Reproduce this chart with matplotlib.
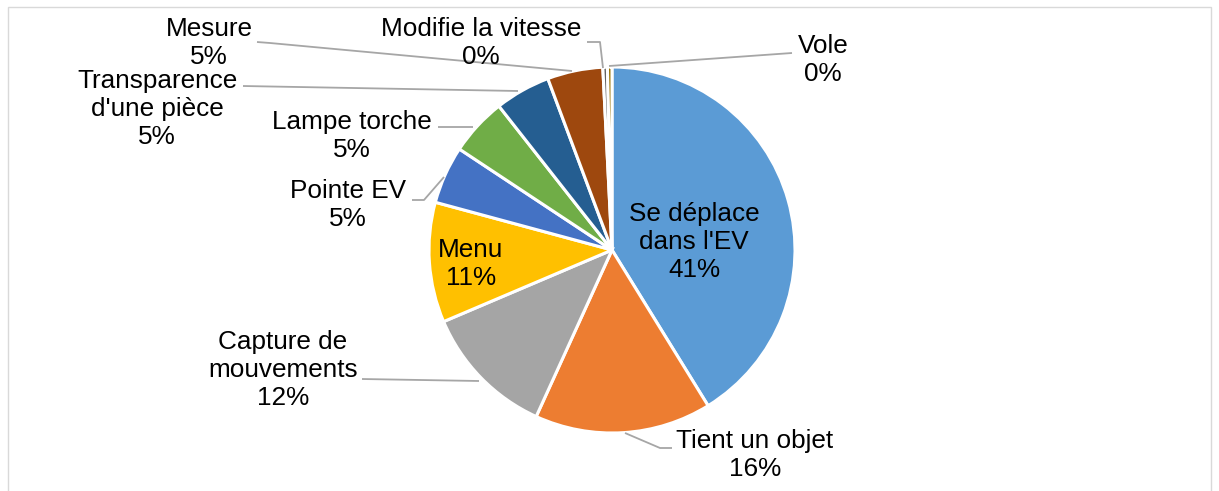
import matplotlib
matplotlib.use("Agg")
import matplotlib.pyplot as plt
from matplotlib.patches import Rectangle

categories = ["Se déplace\ndans l'EV", "Tient un objet", "Capture de\nmouvements", "Menu",
              "Pointe EV", "Lampe torche", "Transparence\nd'une pièce", "Mesure",
              "Modifie la vitesse", "Vole"]
values = [41.2, 15.6, 11.8, 10.6, 5.1, 5.1, 4.9, 4.9, 0.4, 0.4]
colors = ["#5B9BD5", "#ED7D31", "#A5A5A5", "#FFC000", "#4472C4", "#70AD47",
          "#255E91", "#9E480E", "#636363", "#997300"]

W, H = 1219, 491
fig = plt.figure(figsize=(W / 100, H / 100), dpi=100)
ax = fig.add_axes([0, 0, 1, 1])
ax.set_xlim(0, W)
ax.set_ylim(0, H)
ax.set_aspect("equal")
ax.axis("off")

def Y(y):
    return H - y

cx, cy, r = 612, 250, 183
ax.pie(values, colors=colors, startangle=90, counterclock=False,
       center=(cx, Y(cy)), radius=r, frame=True,
       wedgeprops=dict(edgecolor="white", linewidth=2.2))
ax.set_xlim(0, W)
ax.set_ylim(0, H)
ax.axis("off")

# label positions (pixel coords) and leader lines
label_pos = [(694, 242), (755, 455), (283, 370), (471, 264), (348, 205),
             (352, 136), (157, 109), (209, 43), (481, 43), (823, 60)]
leaders = [None,
           [(625, 433), (660, 448), (672, 448)],
           [(362, 379), (479, 381)],
           None,
           [(412, 200), (424, 200), (444, 177)],
           [(438, 127), (473, 127)],
           [(243, 86), (518, 91)],
           [(257, 42), (270, 43), (572, 71)],
           [(587, 42), (600, 42), (603, 68)],
           [(609, 66), (792, 53)]]

for cat, v, (lx, ly), ld in zip(categories, values, label_pos, leaders):
    if ld is not None:
        xs = [p[0] for p in ld]
        ys = [Y(p[1]) for p in ld]
        ax.plot(xs, ys, color="#A6A6A6", lw=1.3, zorder=1, solid_capstyle="butt")
    ax.text(lx, Y(ly), f"{cat}\n{v:.0f}%", ha="center", va="center",
            fontsize=18.8, family=["Liberation Sans", "DejaVu Sans"],
            color="#000000", linespacing=1.21, zorder=5)

fig.add_artist(Rectangle((8 / W, -0.01), (1211 - 8) / W, (H - 7) / H + 0.01,
                         transform=fig.transFigure, fill=False,
                         edgecolor="#D9D9D9", lw=1.0))

fig.savefig("out.png", dpi=100, facecolor="white")
